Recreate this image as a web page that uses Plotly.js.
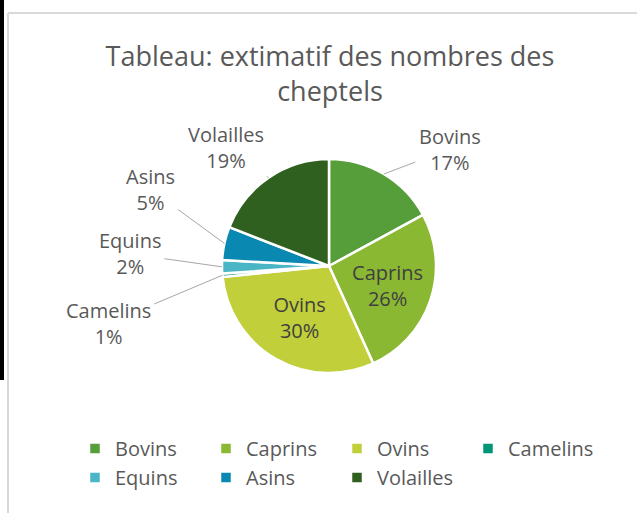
<!DOCTYPE html>
<html>
<head>
<meta charset="utf-8">
<script src="https://cdn.plot.ly/plotly-3.0.1.min.js"></script>
<style>html,body{margin:0;padding:0;background:#fff;}#chart{width:637px;height:513px;}</style>
</head>
<body>
<div id="chart"></div>
<script>
// ---- data ----
var categories = ["Bovins", "Caprins", "Ovins", "Camelins", "Equins", "Asins", "Volailles"];
var cheptels = [17, 26, 30, 0.5, 2, 5, 19];
var sliceColors = ["#559E3A", "#8AB833", "#C0CF3A", "#029676", "#4AB5C4", "#0989B1", "#30601F"];
var insideLabels = ["Caprins", "Ovins"];

// ---- layout settings ----
var W = 637, H = 513;
var ML = 50, MR = 50;               // side margins (limit legend row width)
var PW = W - ML - MR;
function fx(px) { return (px - ML) / PW; }   // pixel x -> paper x
function fy(py) { return 1 - py / H; }       // pixel y -> paper y
var cx = 329, cy = 266, R = 107;
// label text offsets (pixels) from the slice edge point, per outside label
var labelOffsets = {
  "Bovins":   [66, -25],
  "Volailles":[-43, -30],
  "Asins":    [-74, -54],
  "Equins":   [-92, -13],
  "Camelins": [-114, 48]
};
var fontFam = "Open Sans, Noto Sans, sans-serif";
var txtGray = "#595959";

var total = cheptels.reduce(function(a,b){return a+b;}, 0);
var texttemplate = categories.map(function(c){
  return insideLabels.indexOf(c) >= 0 ? "%{label}<br>%{percent:.0%}" : "";
});

var annotations = [];
var cum = 0;
categories.forEach(function(c, i){
  var frac = cheptels[i] / total;
  var mid = (cum + frac/2) * 2 * Math.PI;
  cum += frac;
  if (insideLabels.indexOf(c) >= 0) return;
  var px = cx + R * Math.sin(mid);
  var py = cy - R * Math.cos(mid);
  var pct = Math.round(frac * 100);
  if (pct < 1) pct = 1;
  var off = labelOffsets[c];
  annotations.push({
    xref: "paper", yref: "paper",
    x: fx(px), y: fy(py),
    text: c + "<br>" + pct + "%",
    showarrow: true, arrowhead: 0, arrowwidth: 1, arrowcolor: "#A6A6A6",
    standoff: 0, startstandoff: 2,
    ax: off[0], ay: off[1],
    font: {family: fontFam, size: 20, color: txtGray},
    align: "center"
  });
});

var trace = {
  type: "pie",
  labels: categories,
  values: cheptels,
  sort: false,
  direction: "clockwise",
  rotation: 0,
  marker: {colors: sliceColors, line: {color: "#FFFFFF", width: 2.5}},
  texttemplate: texttemplate,
  textposition: "inside",
  insidetextorientation: "horizontal",
  insidetextfont: {family: fontFam, size: 20, color: "#404040"},
  hoverinfo: "label+percent",
  domain: {x: [fx(cx - R), fx(cx + R)], y: [fy(cy + R), fy(cy - R)]}
};

var shapes = [
  {type: "rect", xref: "paper", yref: "paper", x0: fx(0), x1: fx(4), y0: fy(380), y1: 1, fillcolor: "#000", line: {width: 0}},
  {type: "line", xref: "paper", yref: "paper", x0: fx(8), x1: fx(8), y0: -0.1, y1: fy(13), line: {color: "#D9D9D9", width: 2}},
  {type: "line", xref: "paper", yref: "paper", x0: fx(8), x1: fx(700), y0: fy(13), y1: fy(13), line: {color: "#D9D9D9", width: 2}}
];

var layout = {
  width: W, height: H,
  margin: {l: ML, r: MR, t: 0, b: 0, autoexpand: false},
  paper_bgcolor: "#FFFFFF",
  plot_bgcolor: "#FFFFFF",
  title: {
    text: "Tableau: extimatif des nombres des<br>cheptels",
    font: {family: fontFam, size: 27, color: txtGray},
    x: 330 / W, xanchor: "center",
    y: 1 - 66 / H, yanchor: "middle"
  },
  showlegend: true,
  legend: {
    orientation: "h",
    x: fx(337), xanchor: "center",
    y: fy(429), yanchor: "top",
    entrywidth: 86, entrywidthmode: "pixels",
    font: {family: fontFam, size: 20, color: txtGray},
    itemclick: false
  },
  annotations: annotations,
  shapes: shapes
};

Plotly.newPlot("chart", [trace], layout, {displayModeBar: false, staticPlot: true});
</script>
</body>
</html>
